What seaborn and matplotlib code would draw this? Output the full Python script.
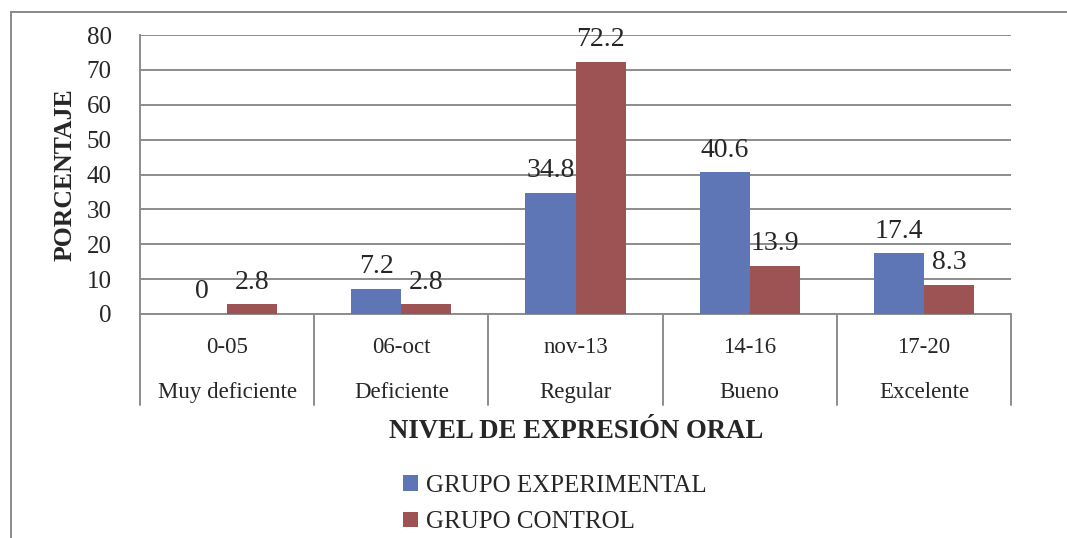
import matplotlib
matplotlib.use("Agg")
import matplotlib.pyplot as plt
import matplotlib.transforms as mtransforms
from matplotlib.patches import Rectangle
import seaborn as sns
import pandas as pd

# Score ranges and their qualitative level
rangos = ["0-05", "06-oct", "nov-13", "14-16", "17-20"]
niveles = ["Muy deficiente", "Deficiente", "Regular", "Bueno", "Excelente"]
grupos = ["GRUPO EXPERIMENTAL", "GRUPO CONTROL"]
experimental = [0, 7.2, 34.8, 40.6, 17.4]
control = [2.8, 2.8, 72.2, 13.9, 8.3]
y_ticks = [0, 10, 20, 30, 40, 50, 60, 70, 80]

BLUE = "#5F76B6"
RED = "#9D5253"
GRID = "#8C8C8C"
SERIF = ["Liberation Serif", "DejaVu Serif"]

df = pd.DataFrame({
    "rango": rangos * 2,
    "pct": experimental + control,
    "grupo": [grupos[0]] * len(rangos) + [grupos[1]] * len(rangos),
})

sns.set_style("white")
plt.rcParams["font.family"] = SERIF

fig = plt.figure(figsize=(10.67, 5.38), dpi=100)
ax = fig.add_axes([140 / 1067, 1 - 314 / 538, (1011 - 140) / 1067, (314 - 35) / 538])

sns.barplot(data=df, x="rango", y="pct", hue="grupo", order=rangos, hue_order=grupos,
            palette=[BLUE, RED], width=0.575, saturation=1, edgecolor="none",
            errorbar=None, ax=ax, zorder=3)

ax.set_xlim(-0.5, len(rangos) - 0.5)
ax.set_ylim(0, 80)
ax.set_yticks(y_ticks)
ax.set_yticklabels([str(t) for t in y_ticks], fontsize=18)
ax.tick_params(axis="y", length=6.5, width=1.3, color=GRID, pad=14, direction="out")
ax.set_xticks([])
ax.set_xlabel("")
ax.set_ylabel("PORCENTAJE", fontsize=18.5, fontweight="bold", labelpad=7.5)
ax.yaxis.grid(True, color=GRID, linewidth=1.4, zorder=0)
ax.set_axisbelow(True)

for side in ["top", "right"]:
    ax.spines[side].set_visible(False)
for side in ["left", "bottom"]:
    ax.spines[side].set_color(GRID)
    ax.spines[side].set_linewidth(1.4)

# Value labels above each bar
for container in ax.containers:
    ax.bar_label(container, labels=[f"{v:g}" for v in container.datavalues],
                 fontsize=20, padding=7, zorder=4)

# Two-row category axis with separators
trans = mtransforms.blended_transform_factory(ax.transData, ax.transAxes)
for b in range(len(rangos) + 1):
    ax.plot([b - 0.5, b - 0.5], [0, -0.326], transform=trans, color=GRID,
            linewidth=1.4, clip_on=False)
for i, (r, n) in enumerate(zip(rangos, niveles)):
    ax.text(i, -0.12, r, transform=trans, ha="center", va="center", fontsize=16.5)
    ax.text(i, -0.282, n, transform=trans, ha="center", va="center", fontsize=16.5)

fig.text(576 / 1067, 1 - 431 / 538, "NIVEL DE EXPRESIÓN ORAL", ha="center", va="center",
         fontsize=19.3, fontweight="bold")

# Legend below the axis title
handles, labels = ax.get_legend_handles_labels()
ax.get_legend().remove()
fig.legend(handles, labels, loc="upper left", bbox_to_anchor=(403 / 1067, 1 - 475 / 538),
           frameon=False, fontsize=18, handlelength=0.6, handleheight=0.6,
           handletextpad=0.32, labelspacing=0.57, borderaxespad=0, borderpad=0)

# Chart area border
fig.patches.append(Rectangle((11 / 1067, -0.05), 1.1, 1 - 12 / 538 + 0.05,
                             transform=fig.transFigure, fill=False,
                             edgecolor="#8A8A8A", linewidth=1.4))

fig.savefig("out.png", dpi=100)
